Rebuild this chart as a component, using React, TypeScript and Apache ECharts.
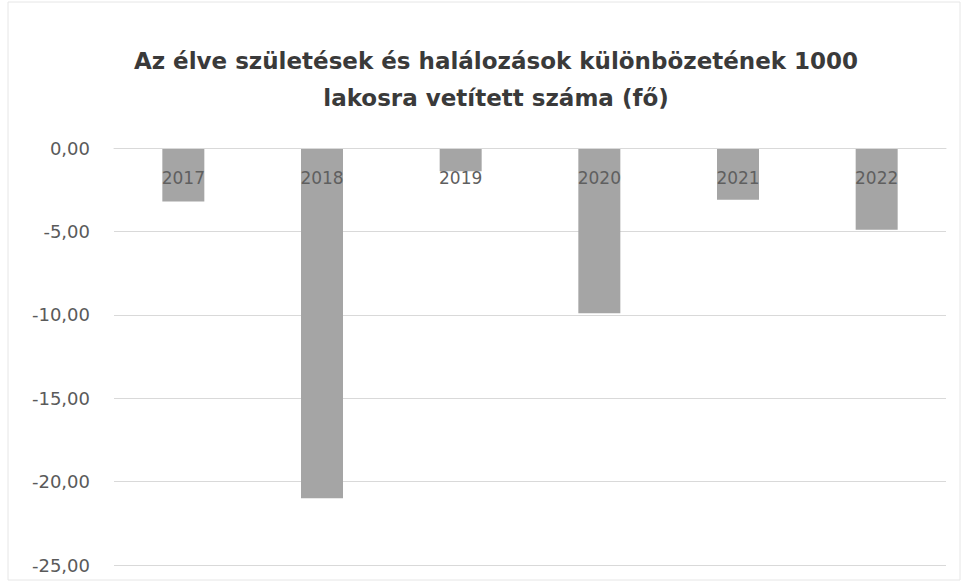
import React, { useEffect, useRef } from "react";
import * as echarts from "echarts";

const titleText = "Az élve születések és halálozások különbözetének 1000\nlakosra vetített száma (fő)";
const years = ["2017", "2018", "2019", "2020", "2021", "2022"];
const values = [-3.2, -21.0, -1.4, -9.9, -3.1, -4.9];
const yMin = -25;
const yMax = 0;
const yStep = 5;

export default function App() {
  const ref = useRef<HTMLDivElement>(null);
  useEffect(() => {
    if (!ref.current) return;
    const chart = echarts.init(ref.current, null, { renderer: "svg" });
    chart.setOption({
      animation: false,
      backgroundColor: "#ffffff",
      graphic: [
        {
          type: "rect",
          shape: { x: 8, y: 2, width: 952, height: 578 },
          style: { fill: "none", stroke: "#e6e6e6", lineWidth: 1 },
          silent: true,
        },
      ],
      title: {
        text: titleText,
        left: 491,
        textAlign: "center",
        top: 37,
        textStyle: {
          fontFamily: "DejaVu Sans",
          fontWeight: "bold",
          fontSize: 23,
          lineHeight: 37,
          color: "#3a3a3a",
        },
      },
      grid: { left: 114, right: 19, top: 148, bottom: 17, outerBoundsMode: "none" },
      xAxis: {
        type: "category",
        data: years,
        position: "top",
        z: 10,
        axisLine: { show: true, lineStyle: { color: "#d9d9d9" } },
        axisTick: { show: false },
        axisLabel: {
          inside: true,
          color: "#5f5f5f",
          fontSize: 17,
          fontFamily: "DejaVu Sans",
          margin: 21,
        },
      },
      yAxis: {
        type: "value",
        min: yMin,
        max: yMax,
        interval: yStep,
        axisLine: { show: false },
        axisTick: { show: false },
        splitLine: { lineStyle: { color: "#d9d9d9", width: 1 } },
        axisLabel: {
          color: "#5a5a5a",
          fontSize: 18,
          fontFamily: "DejaVu Sans",
          margin: 24,
          formatter: (v: number) => (v === 0 ? 0 : v).toFixed(2).replace(".", ","),
        },
      },
      series: [
        {
          type: "bar",
          data: values,
          barWidth: 42,
          itemStyle: { color: "#a5a5a5" },
        },
      ],
    });
    return () => chart.dispose();
  }, []);
  return (
    <div
      ref={ref}
      style={{ position: "absolute", left: 0, top: 0, width: 965, height: 582 }}
    />
  );
}
